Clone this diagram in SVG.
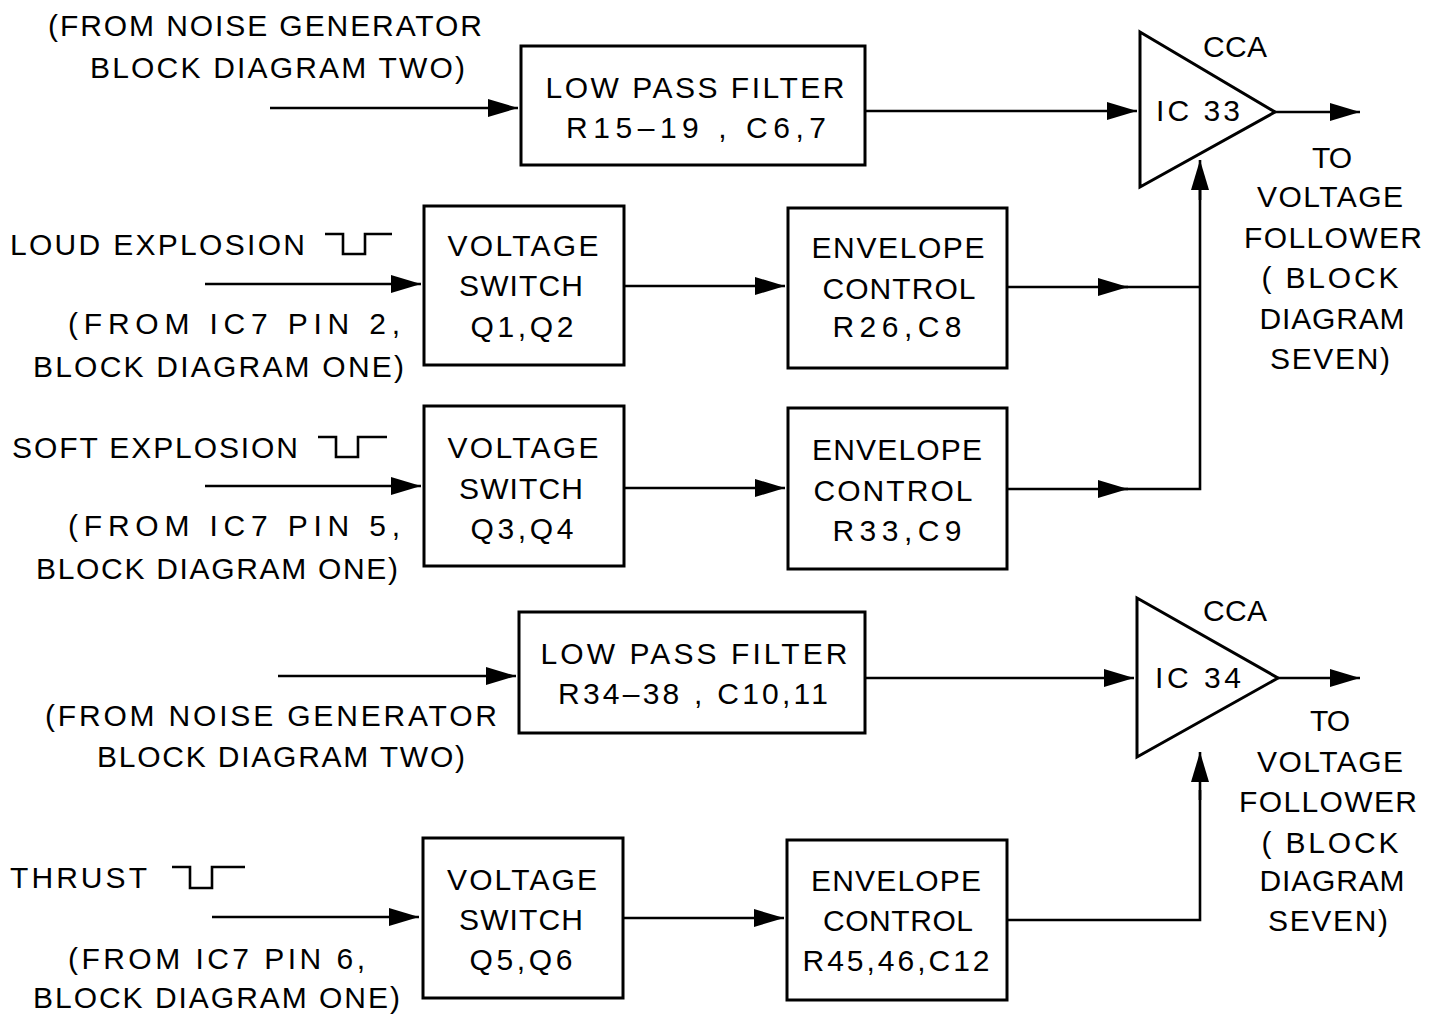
<svg xmlns="http://www.w3.org/2000/svg" width="1442" height="1014" viewBox="0 0 1442 1014">
<defs>
<style>
text{font-family:"Liberation Sans","DejaVu Sans",sans-serif;font-size:30px;fill:#000;lengthAdjust:spacing}
.c{text-anchor:middle}
.box{fill:#fff;stroke:#000;stroke-width:3}
.ln{fill:none;stroke:#000;stroke-width:2.6}
.ar{fill:none;stroke:#000;stroke-width:2.6;marker-end:url(#ah)}
</style>
<marker id="ah" markerUnits="userSpaceOnUse" markerWidth="32" markerHeight="20" refX="30" refY="9" orient="auto">
<path d="M0,0 L30,9 L0,18 z" fill="#000"/>
</marker>
</defs>
<rect width="1442" height="1014" fill="#fff"/>

<g id="connectors">
<line class="ar" x1="270" y1="108" x2="518" y2="108"/>
<line class="ar" x1="865" y1="111" x2="1137" y2="111"/>
<line class="ar" x1="1275" y1="112" x2="1360" y2="112"/>
<line class="ar" x1="205" y1="284" x2="421" y2="284"/>
<line class="ar" x1="624" y1="286" x2="785" y2="286"/>
<line class="ar" x1="1007" y1="287" x2="1128" y2="287"/>
<line class="ln" x1="1120" y1="287" x2="1200" y2="287"/>
<line class="ar" x1="205" y1="486" x2="421" y2="486"/>
<line class="ar" x1="624" y1="488" x2="785" y2="488"/>
<line class="ar" x1="1007" y1="489" x2="1128" y2="489"/>
<polyline class="ln" points="1120,489 1200,489 1200,190"/>
<line class="ar" x1="1200" y1="200" x2="1200" y2="160"/>
<line class="ar" x1="278" y1="676" x2="516" y2="676"/>
<line class="ar" x1="865" y1="678" x2="1134" y2="678"/>
<line class="ar" x1="1278" y1="678" x2="1360" y2="678"/>
<line class="ar" x1="212" y1="917" x2="419" y2="917"/>
<line class="ar" x1="623" y1="918" x2="784" y2="918"/>
<polyline class="ln" points="1007,920 1200,920 1200,790"/>
<line class="ar" x1="1200" y1="800" x2="1200" y2="752"/>
</g>

<g id="lpf1">
<rect class="box" x="521" y="46" width="344" height="119"/>
<text class="c" x="695" y="98" textLength="299">LOW PASS FILTER</text>
<text class="c" x="696" y="138" textLength="260">R15–19 , C6,7</text>
</g>
<g id="cca1">
<polygon class="box" points="1140,32 1275,112 1140,187" stroke-linejoin="miter"/>
<text class="c" x="1235" y="57" textLength="64">CCA</text>
<text x="1156" y="121" textLength="84">IC 33</text>
</g>

<g id="vs1">
<rect class="box" x="424" y="206" width="200" height="159"/>
<text class="c" x="523" y="256" textLength="151">VOLTAGE</text>
<text class="c" x="521" y="296" textLength="124">SWITCH</text>
<text class="c" x="522" y="337" textLength="103">Q1,Q2</text>
</g>
<g id="ec1">
<rect class="box" x="788" y="208" width="219" height="160"/>
<text class="c" x="898" y="258" textLength="173">ENVELOPE</text>
<text class="c" x="899" y="299" textLength="153">CONTROL</text>
<text class="c" x="897" y="337" textLength="129">R26,C8</text>
</g>

<g id="vs2">
<rect class="box" x="424" y="406" width="200" height="160"/>
<text class="c" x="523" y="458" textLength="151">VOLTAGE</text>
<text class="c" x="521" y="499" textLength="124">SWITCH</text>
<text class="c" x="522" y="539" textLength="103">Q3,Q4</text>
</g>
<g id="ec2">
<rect class="box" x="788" y="408" width="219" height="161"/>
<text class="c" x="897" y="460" textLength="170">ENVELOPE</text>
<text class="c" x="893" y="501" textLength="159">CONTROL</text>
<text class="c" x="897" y="541" textLength="129">R33,C9</text>
</g>

<g id="lpf2">
<rect class="box" x="519" y="612" width="346" height="121"/>
<text class="c" x="694" y="664" textLength="307">LOW PASS FILTER</text>
<text class="c" x="693" y="704" textLength="270">R34–38 , C10,11</text>
</g>
<g id="cca2">
<polygon class="box" points="1137,598 1278,678 1137,757"/>
<text class="c" x="1235" y="621" textLength="64">CCA</text>
<text x="1155" y="688" textLength="86">IC 34</text>
</g>

<g id="vs3">
<rect class="box" x="423" y="838" width="200" height="160"/>
<text class="c" x="522" y="890" textLength="150">VOLTAGE</text>
<text class="c" x="521" y="930" textLength="124">SWITCH</text>
<text class="c" x="521" y="970" textLength="103">Q5,Q6</text>
</g>
<g id="ec3">
<rect class="box" x="787" y="840" width="220" height="160"/>
<text class="c" x="896" y="891" textLength="170">ENVELOPE</text>
<text class="c" x="898" y="931" textLength="150">CONTROL</text>
<text class="c" x="896" y="971" textLength="187">R45,46,C12</text>
</g>

<g id="labels">
<text x="48" y="36" textLength="434">(FROM NOISE GENERATOR</text>
<text x="90" y="78" textLength="375">BLOCK DIAGRAM TWO)</text>
<text x="10" y="255" textLength="295">LOUD EXPLOSION</text>
<path class="ln" d="M325,234 H343 V254 H365 V234 H392"/>
<text x="68" y="334" textLength="332">(FROM IC7 PIN 2,</text>
<text x="33" y="377" textLength="371">BLOCK DIAGRAM ONE)</text>
<text x="12" y="458" textLength="286">SOFT EXPLOSION</text>
<path class="ln" d="M318,437 H336 V457 H358 V437 H387"/>
<text x="68" y="536" textLength="332">(FROM IC7 PIN 5,</text>
<text x="36" y="579" textLength="362">BLOCK DIAGRAM ONE)</text>
<text x="45" y="726" textLength="452">(FROM NOISE GENERATOR</text>
<text x="97" y="767" textLength="368">BLOCK DIAGRAM TWO)</text>
<text x="10" y="888" textLength="137">THRUST</text>
<path class="ln" d="M172,867 H190 V888 H212 V867 H245"/>
<text x="68" y="969" textLength="297">(FROM IC7 PIN 6,</text>
<text x="33" y="1008" textLength="367">BLOCK DIAGRAM ONE)</text>
</g>
<g id="out1">
<text class="c" x="1332" y="168" textLength="40">TO</text>
<text class="c" x="1330" y="207" textLength="146">VOLTAGE</text>
<text class="c" x="1333" y="248" textLength="178">FOLLOWER</text>
<text class="c" x="1330" y="288" textLength="137">( BLOCK</text>
<text class="c" x="1332" y="329" textLength="145">DIAGRAM</text>
<text class="c" x="1330" y="369" textLength="120">SEVEN)</text>
</g>
<g id="out2">
<text class="c" x="1330" y="731" textLength="40">TO</text>
<text class="c" x="1330" y="772" textLength="146">VOLTAGE</text>
<text class="c" x="1328" y="812" textLength="178">FOLLOWER</text>
<text class="c" x="1330" y="853" textLength="137">( BLOCK</text>
<text class="c" x="1332" y="891" textLength="145">DIAGRAM</text>
<text class="c" x="1328" y="931" textLength="120">SEVEN)</text>
</g>
</svg>
